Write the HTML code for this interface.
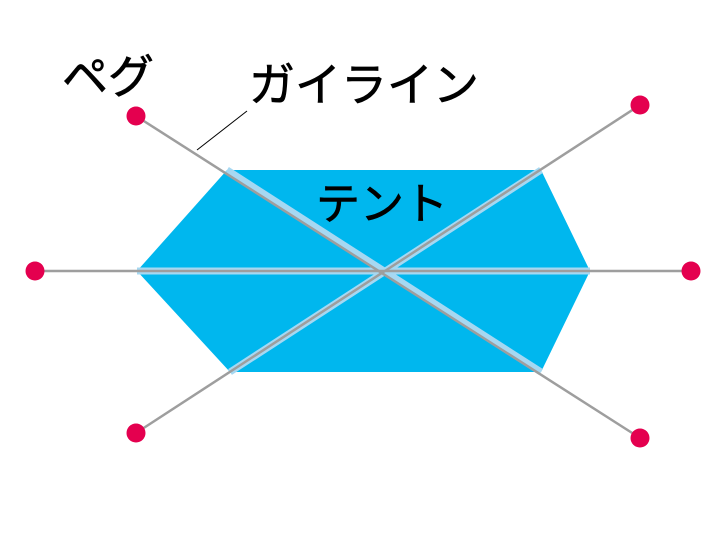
<!DOCTYPE html>
<html><head><meta charset="utf-8"><style>
html,body{margin:0;padding:0;background:#fff;width:727px;height:545px;overflow:hidden}
text{font-family:"Liberation Sans","Noto Sans CJK JP",sans-serif;fill:#000;stroke:#000;stroke-width:0.7}
</style></head><body>
<svg width="727" height="545" viewBox="0 0 727 545" xmlns="http://www.w3.org/2000/svg">
<polygon points="227,170 541,170 590,271 541,372 230,372 137,271" fill="#00b7ee"/>
<g stroke="#a6d8f2" stroke-width="7" stroke-linecap="butt">
<line x1="227" y1="170" x2="541" y2="372"/>
<line x1="541" y1="170" x2="230" y2="372"/>
<line x1="137" y1="271" x2="590" y2="271"/>
</g>
<g stroke="#9e9e9e" stroke-width="2.5">
<line x1="136" y1="116" x2="640" y2="438"/>
<line x1="640" y1="105" x2="136" y2="433"/>
<line x1="35" y1="271" x2="691" y2="271"/>
</g>
<line x1="197" y1="150" x2="247" y2="111" stroke="#000" stroke-width="1"/>
<g fill="#e4004f">
<circle cx="136" cy="116" r="9.5"/>
<circle cx="640" cy="105" r="9.5"/>
<circle cx="35" cy="271" r="9.5"/>
<circle cx="691" cy="271" r="9.5"/>
<circle cx="136" cy="433" r="9.5"/>
<circle cx="640" cy="438" r="9.5"/>
</g>
<text x="62" y="93" font-size="46">ペグ</text>
<text x="249" y="101" font-size="46">ガイライン</text>
<text x="316" y="219" font-size="44">テント</text>
</svg>
</body></html>
